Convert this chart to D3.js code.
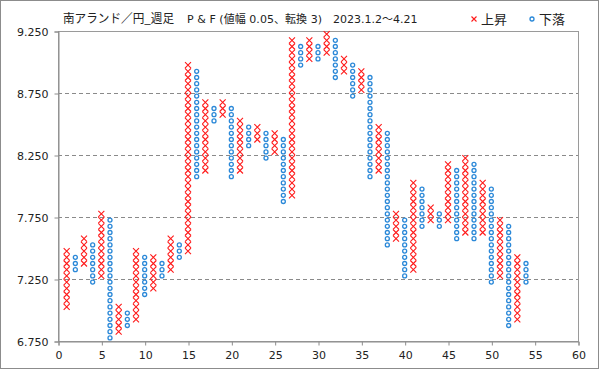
<!DOCTYPE html>
<html>
<head>
<meta charset="utf-8">
<style>
    body { margin: 0; background: #fff; }
    text { font-family: "DejaVu Sans", "Noto Sans CJK JP", sans-serif; fill: #222; }
</style>
</head>
<body>
<svg id="chart" width="599" height="369"></svg>
<script src="https://cdn.jsdelivr.net/npm/d3@7"></script>
<script>
    // P&F columns: odd = X (rise), even = O (fall); low / high box of each column
    const columns = d3.range(1, 55)
    const lows = [7.025, 7.325, 7.375, 7.225, 7.275, 6.775, 6.825, 6.875, 6.925, 7.125,
        7.175, 7.275, 7.325, 7.425, 7.475, 8.075, 8.125, 8.525, 8.575, 8.075,
        8.125, 8.325, 8.375, 8.225, 8.275, 7.875, 7.925, 8.975, 9.025, 9.025,
        9.075, 8.875, 8.925, 8.725, 8.775, 8.075, 8.125, 7.525, 7.575, 7.275,
        7.325, 7.675, 7.725, 7.675, 7.725, 7.575, 7.625, 7.575, 7.625, 7.225,
        7.275, 6.875, 6.925, 7.225]
    const highs = [7.475, 7.425, 7.575, 7.525, 7.775, 7.725, 7.025, 6.975, 7.475, 7.425,
        7.425, 7.375, 7.575, 7.525, 8.975, 8.925, 8.675, 8.625, 8.675, 8.625,
        8.525, 8.475, 8.475, 8.425, 8.425, 8.375, 9.175, 9.125, 9.175, 9.125,
        9.225, 9.175, 9.025, 8.975, 8.925, 8.875, 8.475, 8.425, 7.775, 7.725,
        8.025, 7.975, 7.825, 7.775, 8.175, 8.125, 8.225, 8.175, 8.025, 7.975,
        7.725, 7.675, 7.425, 7.375]
    const boxSize = 0.05
    const yTicks = [6.75, 7.25, 7.75, 8.25, 8.75, 9.25]
    const xTicks = [0, 5, 10, 15, 20, 25, 30, 35, 40, 45, 50, 55, 60]

    const svg = d3.select("#chart")
    const plotLeft = 58, plotRight = 578, plotTop = 31, plotBottom = 341

    let xScale = d3.scaleLinear().domain([0, 60]).range([plotLeft, plotRight])
    let yScale = d3.scaleLinear().domain([6.75, 9.25]).range([plotBottom, plotTop])

    // outer frame
    svg.append("rect")
        .attr("x", 0.5).attr("y", 0.5).attr("width", 598).attr("height", 368)
        .attr("fill", "#fff").attr("stroke", "#8c8c8c")

    // dashed gridlines
    svg.append("g").selectAll("line")
        .data(yTicks.slice(1, -1))
        .join("line")
        .attr("x1", plotLeft).attr("x2", plotRight)
        .attr("y1", d => Math.round(yScale(d)) + 0.5)
        .attr("y2", d => Math.round(yScale(d)) + 0.5)
        .attr("stroke", "#8a8a8a")
        .attr("stroke-dasharray", "4,3")

    // plot frame
    svg.append("rect")
        .attr("x", plotLeft + 0.5).attr("y", plotTop + 0.5)
        .attr("width", plotRight - plotLeft).attr("height", plotBottom - plotTop)
        .attr("fill", "none").attr("stroke", "#9a9a9a")

    // axes
    let yAxis = svg.append("g")
        .attr("transform", `translate(${plotLeft + 0.5},0.5)`)
        .call(d3.axisLeft(yScale).tickValues(yTicks).tickFormat(d3.format(".3f")).tickSize(4).tickPadding(6))
    let xAxis = svg.append("g")
        .attr("transform", `translate(0.5,${plotBottom + 0.5})`)
        .call(d3.axisBottom(xScale).tickValues(xTicks).tickSize(4).tickPadding(6))
    for (const ax of [yAxis, xAxis]) {
        ax.select(".domain").attr("stroke", "#8c8c8c")
        ax.selectAll(".tick line").attr("stroke", "#8c8c8c")
        ax.selectAll(".tick text")
            .style("font-family", '"DejaVu Sans", sans-serif')
            .style("font-size", "11px")
            .attr("fill", "#222")
    }

    // marks: one per box inside each column
    let marks = []
    columns.forEach((c, i) => {
        let n = Math.round((highs[i] - lows[i]) / boxSize)
        for (let k = 0; k <= n; k++) {
            marks.push({ col: c, v: lows[i] + k * boxSize, up: c % 2 === 1 })
        }
    })

    let body = svg.append("g")
    let s = 3
    body.selectAll("path.x")
        .data(marks.filter(d => d.up))
        .join("path")
        .attr("class", "x")
        .attr("d", d => {
            let cx = xScale(d.col), cy = yScale(d.v)
            return `M${cx - s},${cy - s}L${cx + s},${cy + s}M${cx - s},${cy + s}L${cx + s},${cy - s}`
        })
        .attr("stroke", "#ff1a1a")
        .attr("stroke-width", 1.1)
        .attr("fill", "none")

    body.selectAll("circle")
        .data(marks.filter(d => !d.up))
        .join("circle")
        .attr("cx", d => xScale(d.col))
        .attr("cy", d => yScale(d.v))
        .attr("r", 2)
        .attr("fill", "#fff")
        .attr("stroke", "#2a88d8")
        .attr("stroke-width", 1.3)

    // title
    svg.append("text").attr("x", 63).attr("y", 23)
        .style("font-size", "12.5px").style("font-family", '"Noto Sans CJK JP"')
        .attr("textLength", 111).attr("lengthAdjust", "spacingAndGlyphs")
        .text("南アランド／円_週足")
    svg.append("text").attr("x", 187).attr("y", 23)
        .style("font-size", "11px")
        .attr("textLength", 135).attr("lengthAdjust", "spacing")
        .text("P & F (値幅 0.05、転換 3)")
    svg.append("text").attr("x", 333).attr("y", 23)
        .style("font-size", "11px")
        .text("2023.1.2～4.21")

    // legend
    let lg = svg.append("g")
    lg.append("path")
        .attr("d", "M471.5,16.5L476.5,21.5M471.5,21.5L476.5,16.5")
        .attr("stroke", "#ff1a1a").attr("stroke-width", 1.1)
    lg.append("text").attr("x", 481).attr("y", 24)
        .style("font-size", "13px").style("font-family", '"Noto Sans CJK JP"')
        .text("上昇")
    lg.append("circle").attr("cx", 532).attr("cy", 19).attr("r", 2)
        .attr("fill", "#fff").attr("stroke", "#2a88d8").attr("stroke-width", 1.3)
    lg.append("text").attr("x", 539).attr("y", 24)
        .style("font-size", "13px").style("font-family", '"Noto Sans CJK JP"')
        .text("下落")
</script>
</body>
</html>
